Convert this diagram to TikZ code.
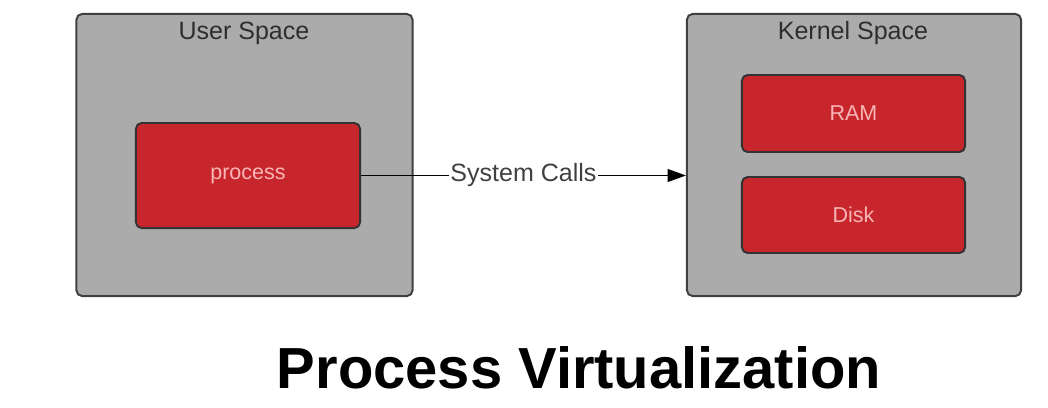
\documentclass[tikz,border=0pt]{standalone}
\usepackage{fontspec}
\setmainfont{Liberation Sans}
\usepackage{tikz}
\usetikzlibrary{arrows.meta, positioning}
\definecolor{spacegray}{HTML}{ABABAB}
\definecolor{boxred}{HTML}{C8262D}
\definecolor{boxtext}{HTML}{F7B5B5}
\definecolor{labelgray}{HTML}{2E2E2E}
\tikzset{
    space/.style={draw=black!75, line width=1.4pt, fill=spacegray, rounded corners=4pt, inner sep=0pt},
    redbox/.style={draw=black!80, line width=1.4pt, fill=boxred, rounded corners=4pt, inner sep=0pt,
        text=boxtext, font=\fontsize{15.3}{18}\selectfont},
    spacelabel/.style={text=labelgray, font=\fontsize{17.8}{21}\selectfont}
}

\begin{document}
\begin{tikzpicture}[x=0.025cm, y=-0.025cm]
            \useasboundingbox (0,0) rectangle (1048,408);

            % user space with the process
            \node[space, minimum width=8.4cm, minimum height=7.05cm] (user) at (244.5,155) {};
            \node[spacelabel] (userlabel) at (244,33) {User Space};
            \node[redbox, minimum width=5.6cm, minimum height=2.625cm] (proc) at (248,175.5) {process};

            % kernel space with its resources
            \node[space, minimum width=8.35cm, minimum height=7.05cm] (kern) at (854,155) {};
            \node[spacelabel] (kernlabel) at (853,33) {Kernel Space};
            \node[redbox, minimum width=5.575cm, minimum height=1.925cm] (ram) at (853.5,113.5) {RAM};
            \node[redbox, minimum width=5.575cm, minimum height=1.9cm] (disk) at (853.5,215) {Disk};

            % system calls
            \draw[line width=1.3pt, -{Triangle[length=13pt, width=9pt]}] (proc.east) --
                node[fill=white, inner sep=1pt, spacelabel, text=black!75] (calls) {System Calls} (proc.east -| kern.west);

            % caption
            \node[font=\bfseries\fontsize{41.2}{48}\selectfont] (title) at (579,368) {Process Virtualization};
        \end{tikzpicture}
\end{document}
